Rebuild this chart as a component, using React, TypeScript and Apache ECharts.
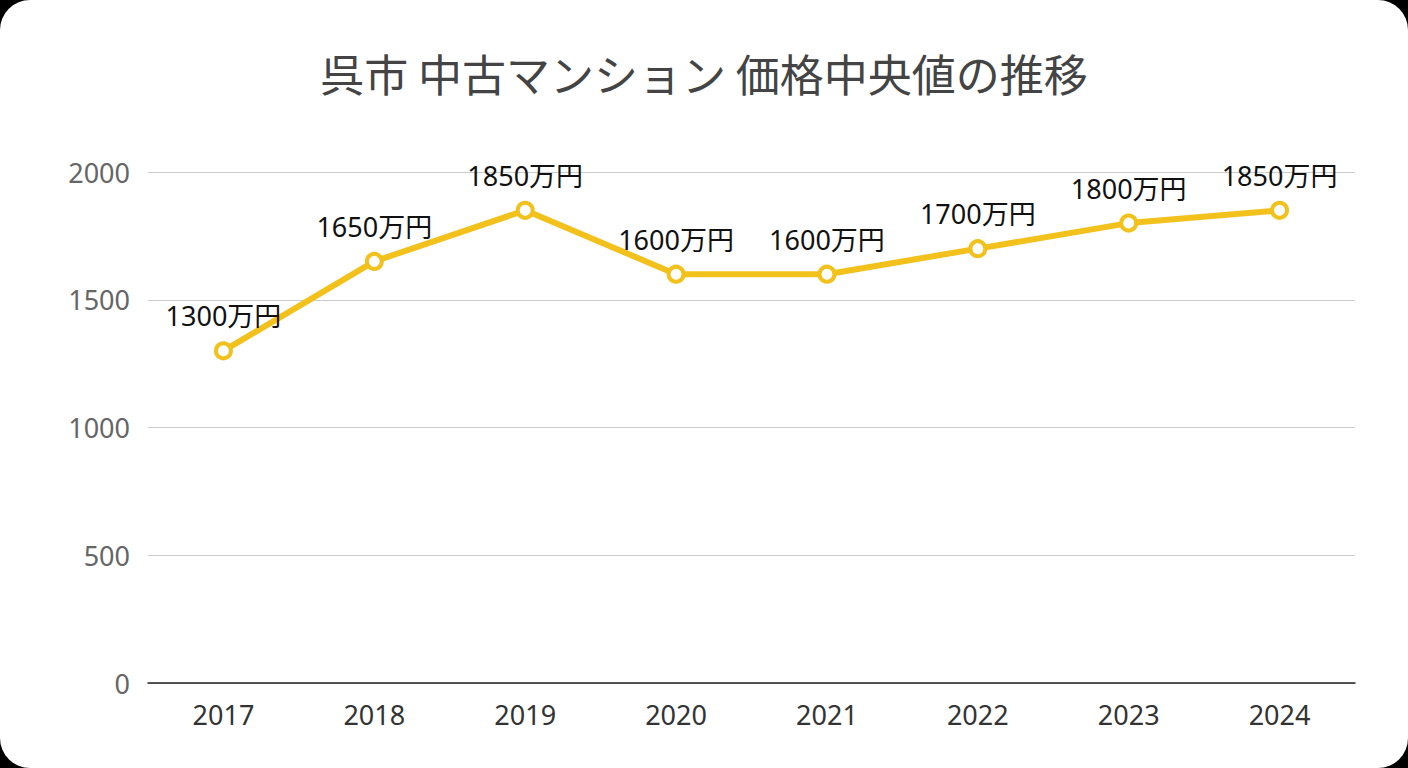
import React, { useEffect, useRef } from "react";
import * as echarts from "echarts";

const categories = ["2017", "2018", "2019", "2020", "2021", "2022", "2023", "2024"];
const values = [1300, 1650, 1850, 1600, 1600, 1700, 1800, 1850];
const titleText = "呉市 中古マンション 価格中央値の推移";

export default function App() {
  const ref = useRef<HTMLDivElement>(null);
  useEffect(() => {
    document.body.style.margin = "0";
    document.body.style.background = "#000";
    const chart = echarts.init(ref.current!, null, { renderer: "svg" });
    const font = "'Noto Sans', 'Noto Sans CJK JP', sans-serif";
    chart.setOption({
      animation: false,
      title: {
        text: titleText,
        left: "center",
        top: 46,
        textStyle: { fontSize: 44, fontWeight: "normal", color: "#444", fontFamily: "'Noto Sans CJK JP', sans-serif" },
      },
      grid: { left: 148, right: 53, top: 172, bottom: 85 },
      xAxis: {
        type: "category",
        data: categories,
        axisLine: { lineStyle: { color: "#222", width: 1.5 } },
        axisTick: { show: false },
        axisLabel: { fontSize: 27, color: "#333", margin: 18, fontFamily: font },
      },
      yAxis: {
        type: "value",
        min: 0,
        max: 2000,
        interval: 500,
        axisLabel: { fontSize: 27, color: "#666", margin: 18, fontFamily: font, formatter: (v: number) => String(v) },
        splitLine: { lineStyle: { color: "#ccc", width: 1.2 } },
      },
      series: [
        {
          type: "line",
          data: values,
          symbol: "circle",
          symbolSize: 15,
          lineStyle: { color: "#F2C11C", width: 6 },
          itemStyle: { color: "#fff", borderColor: "#F2C11C", borderWidth: 4 },
          label: {
            show: true,
            position: "top",
            distance: 12,
            fontSize: 27,
            color: "#111",
            fontFamily: font,
            formatter: (p: any) => p.value + "万円",
          },
        },
      ],
    });
    return () => chart.dispose();
  }, []);
  return (
    <div style={{ width: 1408, height: 768, background: "#000" }}>
      <div style={{ width: 1408, height: 768, background: "#fff", borderRadius: 30, overflow: "hidden" }}>
        <div ref={ref} style={{ width: 1408, height: 768 }} />
      </div>
    </div>
  );
}
